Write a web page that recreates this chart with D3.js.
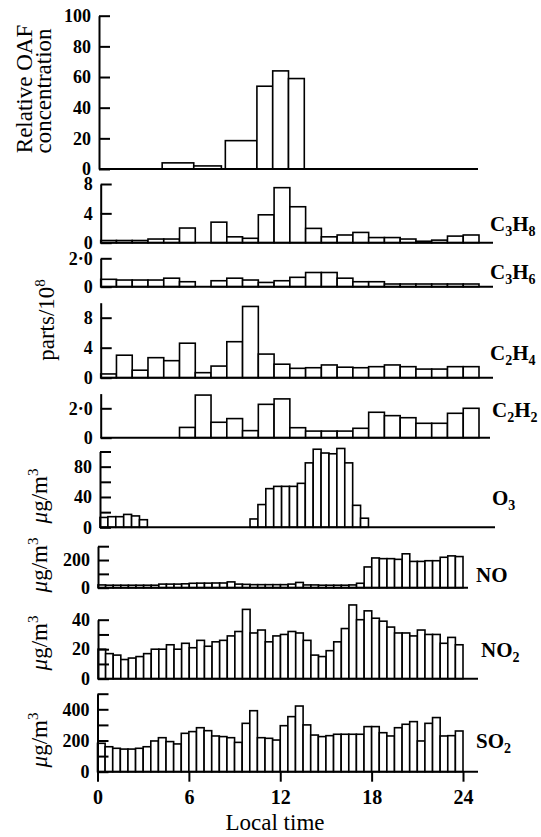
<!DOCTYPE html>
<html>
<head>
<meta charset="utf-8">
<script src="https://cdn.jsdelivr.net/npm/d3@7/dist/d3.min.js"></script>
<style>
    body { margin: 0; background: #fff; }
    text { font-family: "Liberation Serif", "DejaVu Serif", serif; fill: #000; }
</style>
</head>
<body>
<div class="container"></div>
<script>
// OAF sampling periods (local time, h) and relative concentration
var oafStart = [4, 6, 8, 10, 11, 12];
var oafEnd = [6, 7.75, 10, 11, 12, 13];
var oafValues = [4, 2, 18.5, 54, 64, 59];

// hourly hydrocarbons, parts/10^8 (null = no sample)
var c3h8 = [0.3, 0.3, 0.3, 0.5, 0.5, 2.0, null, 2.8, 0.8, 0.6, 3.8, 7.5, 4.9, 1.95, 0.8, 1.05, 1.4, 0.7, 0.7, 0.5, 0.2, 0.35, 0.9, 1.05];
var c3h6 = [0.52, 0.47, 0.47, 0.47, 0.6, 0.35, null, 0.42, 0.6, 0.47, 0.3, 0.42, 0.66, 1.0, 1.0, 0.6, 0.35, 0.35, 0.19, 0.19, 0.19, 0.19, 0.19, 0.19];
var c2h4 = [0.5, 3.0, 1.0, 2.67, 2.27, 4.6, 0.67, 1.55, 4.8, 9.5, 3.15, 1.8, 1.25, 1.33, 1.7, 1.4, 1.33, 1.47, 1.7, 1.47, 1.15, 1.15, 1.47, 1.47];
var c2h2 = [null, null, null, null, null, 0.7, 2.9, 1.05, 1.3, 0.48, 2.27, 2.64, 0.68, 0.45, 0.45, 0.45, 0.64, 1.73, 1.5, 1.36, 0.98, 0.98, 1.66, 2.0];

// half-hourly gases, ug/m3
var o3 = [13, 14, 14, 17, 15, 10,
    null, null, null, null, null, null, null, null, null, null, null, null, null,
    11, 30, 51, 54, 54, 54, 58, 85, 103, 98, 97, 104, 85, 29, 12,
    null, null, null, null, null, null, null, null, null, null, null, null, null, null];
var no = [20, 18, 18, 18, 18, 18, 18, 18, 26, 26, 26, 28, 32, 33, 33, 34, 34, 42, 26, 24, 22, 22, 22, 22,
    22, 26, 38, 20, 20, 18, 18, 18, 18, 20, 32, 150, 215, 210, 210, 205, 245, 190, 190, 195, 195, 220, 230, 225];
var no2 = [20, 17, 16, 13, 14, 15, 17, 20, 20, 23, 20, 24, 21, 26, 22, 25, 26, 29, 32, 47, 31, 33, 25, 29,
    30, 32, 31, 26, 16, 15, 19, 25, 34, 50, 40, 46, 41, 39, 35, 31, 31, 29, 33, 30, 30, 24, 28, 23];
var so2 = [182, 160, 150, 145, 145, 150, 160, 197, 218, 193, 178, 246, 257, 282, 263, 229, 225, 218, 188, 310, 391, 218, 214, 203,
    295, 353, 421, 300, 235, 225, 231, 240, 240, 240, 240, 289, 289, 250, 229, 282, 304, 321, 197, 310, 347, 229, 231, 261];

var timeTicks = [0, 6, 12, 18, 24];

const WIDTH = 541;
const HEIGHT = 837;

var svg = d3.select('.container').append('svg')
    .attr('width', WIDTH)
    .attr('height', HEIGHT);

// turn a series into bins
var toBins = function (values, step) {
    var bins = [];
    values.forEach(function (v, i) {
        if (v !== null) bins.push({start: i * step, end: (i + 1) * step, v: v});
    });
    return bins;
};

var oafBins = oafValues.map(function (v, i) {
    return {start: oafStart[i], end: oafEnd[i], v: v};
});

var dotFmt = function (d) { return d === 0 ? '0' : d3.format('.1f')(d).replace('.', '\u00b7'); };

var panels = [
    {bins: oafBins, xr: [99, 478], lineEnd: 478, y0: 169, yTop: 15.7, max: 100,
        ticks: [0, 20, 40, 60, 80, 100], labels: [0, 20, 40, 60, 80, 100]},
    {bins: toBins(c3h8, 1), xr: [100.7, 479], lineEnd: 493, y0: 242.7, yTop: 184, max: 8,
        ticks: [0, 4, 8], labels: [0, 4, 8], name: [['C'], ['3', 1], ['H'], ['8', 1]], lx: 490, ly: 231},
    {bins: toBins(c3h6, 1), xr: [100.7, 479], lineEnd: 493, y0: 286.7, yTop: 258.3, max: 2,
        ticks: [0, 2], labels: [0, 2], fmt: dotFmt, name: [['C'], ['3', 1], ['H'], ['6', 1]], lx: 490, ly: 279},
    {bins: toBins(c2h4, 1), xr: [100.7, 479], lineEnd: 493, y0: 377.7, yTop: 302.7, max: 10,
        ticks: [0, 4, 8], labels: [0, 4, 8], name: [['C'], ['2', 1], ['H'], ['4', 1]], lx: 490, ly: 360},
    {bins: toBins(c2h2, 1), xr: [100.7, 479], lineEnd: 490, y0: 437.7, yTop: 393.6, max: 3,
        ticks: [0, 2], labels: [0, 2], fmt: dotFmt, name: [['C'], ['2', 1], ['H'], ['2', 1]], lx: 492, ly: 417},
    {bins: toBins(o3, 0.5), xr: [100, 479], lineEnd: 495, y0: 527.3, yTop: 451.5, max: 100,
        ticks: [0, 20, 40, 60, 80, 100], labels: [0, 40, 80], name: [['O'], ['3', 1]], lx: 492, ly: 505},
    {bins: toBins(no, 0.5), xr: [98, 463], lineEnd: 468, y0: 587.7, yTop: 546.2, max: 300,
        ticks: [0, 100, 200, 300], labels: [0, 200], name: [['NO']], lx: 476, ly: 582},
    {bins: toBins(no2, 0.5), xr: [98, 463], lineEnd: 478, y0: 678.7, yTop: 619.7, max: 40,
        ticks: [0, 10, 20, 30, 40], labels: [0, 20, 40], name: [['NO'], ['2', 1]], lx: 481, ly: 657},
    {bins: toBins(so2, 0.5), xr: [97.5, 463], lineEnd: 478, y0: 771.7, yTop: 693.7, max: 500,
        ticks: [0, 100, 200, 300, 400, 500], labels: [0, 200, 400], name: [['SO'], ['2', 1]], lx: 476, ly: 748}
];

var lastX;

panels.forEach(function (p) {
    var x = d3.scaleLinear().domain([0, 24]).range(p.xr);
    var y = d3.scaleLinear().domain([0, p.max]).range([p.y0, p.yTop]);
    lastX = x;
    var g = svg.append('g');

    g.selectAll('rect').data(p.bins)
        .enter().append('rect')
        .attr('x', function (d) { return x(d.start); })
        .attr('width', function (d) { return x(d.end) - x(d.start); })
        .attr('y', function (d) { return y(d.v); })
        .attr('height', function (d) { return y(0) - y(d.v); })
        .attr('fill', '#fff')
        .attr('stroke', '#000')
        .attr('stroke-width', 1.6);

    // baseline
    g.append('line')
        .attr('x1', x(0)).attr('x2', p.lineEnd)
        .attr('y1', y(0)).attr('y2', y(0))
        .attr('stroke', '#000').attr('stroke-width', 2);

    var fmt = p.fmt || d3.format('d');
    var yAxis = d3.axisLeft(y)
        .tickValues(p.ticks)
        .tickSizeInner(-11)
        .tickSizeOuter(0)
        .tickPadding(8)
        .tickFormat(function (d) { return p.labels.indexOf(d) >= 0 ? fmt(d) : ''; });

    var ax = g.append('g')
        .attr('transform', 'translate(' + x(0) + ',0)')
        .call(yAxis);
    ax.selectAll('path, line').attr('stroke', '#000').attr('stroke-width', 2);
    ax.selectAll('text')
        .attr('font-size', 18)
        .attr('font-weight', 'bold')
        .style('font-family', '"Liberation Serif", serif');

    if (p.name) {
        var t = g.append('text')
            .attr('x', p.lx).attr('y', p.ly)
            .attr('font-size', 21)
            .attr('font-weight', 'bold');
        p.name.forEach(function (part) {
            t.append('tspan')
                .attr('font-size', part[1] ? 14 : 21)
                .attr('dy', part[1] ? 5 : (t.selectAll('tspan').size() > 1 ? -5 : 0))
                .text(part[0]);
        });
    }
});

// time axis under the SO2 panel
var xAxis = d3.axisBottom(lastX)
    .tickValues(timeTicks)
    .tickSizeInner(10)
    .tickSizeOuter(0)
    .tickPadding(8)
    .tickFormat(d3.format('d'));

var bx = svg.append('g')
    .attr('transform', 'translate(0,' + 771.7 + ')')
    .call(xAxis);
bx.select('.domain').remove();
bx.selectAll('line').attr('stroke', '#000').attr('stroke-width', 2);
bx.selectAll('text')
    .attr('font-size', 20)
    .attr('font-weight', 'bold')
    .style('font-family', '"Liberation Serif", serif');

svg.append('text')
    .attr('x', 275).attr('y', 830)
    .attr('text-anchor', 'middle')
    .attr('font-size', 23)
    .text('Local time');

// rotated titles on the left
var vtitle = function (cx, cy, build) {
    var t = svg.append('text')
        .attr('transform', 'translate(' + cx + ',' + cy + ') rotate(-90)')
        .attr('text-anchor', 'middle')
        .attr('font-size', 23);
    build(t);
};

vtitle(32, 89, function (t) { t.text('Relative OAF'); });
vtitle(51, 91, function (t) { t.text('concentration'); });
vtitle(54, 320, function (t) {
    t.append('tspan').text('parts/10');
    t.append('tspan').attr('font-size', 15).attr('dy', -9).text('8');
});

var ugm3 = function (t) {
    t.append('tspan').attr('font-style', 'italic').text('\u03bc');
    t.append('tspan').text('g/m');
    t.append('tspan').attr('font-size', 15).attr('dy', -9).text('3');
};
vtitle(47, 496, ugm3);
vtitle(47, 565, ugm3);
vtitle(47, 643, ugm3);
vtitle(47, 740, ugm3);
</script>
</body>
</html>
